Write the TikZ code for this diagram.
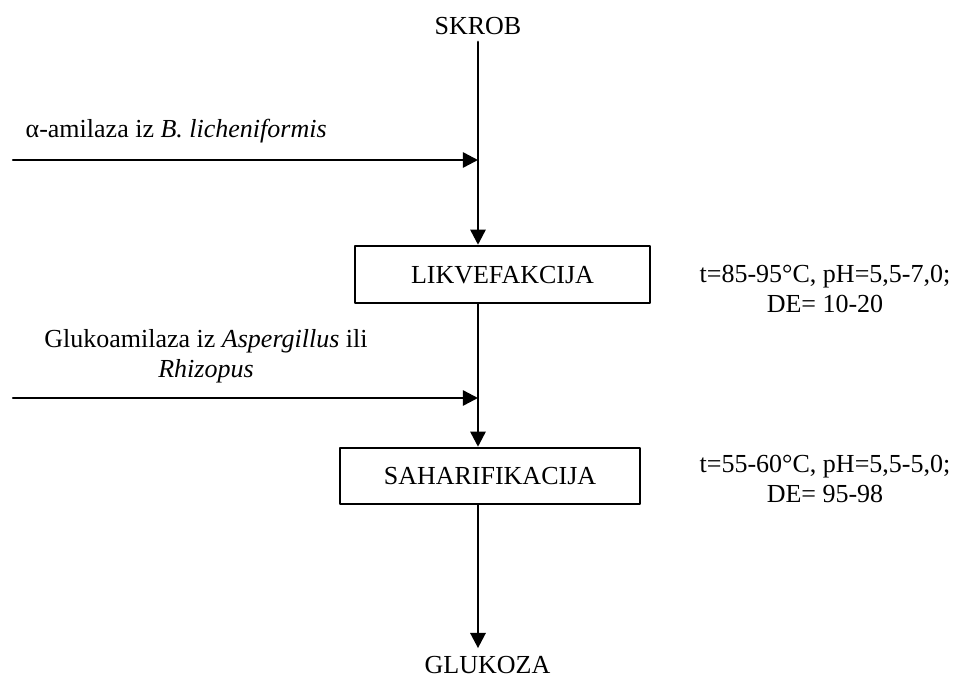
\documentclass[tikz,border=0pt]{standalone}
\usepackage{fontspec}
\setmainfont{Liberation Serif}
\usetikzlibrary{arrows.meta}

\begin{document}
\begin{tikzpicture}[line cap=round, line join=round, x=0.4615pt, y=-0.4615pt]
  \def\u{0.4615pt} % jedan piksel slike
  \tikzset{
    lbl/.style={font=\fontsize{12pt}{13.8pt}\selectfont},
    box/.style={lbl, draw=black, line width=1.15pt, text height=7.9pt, text depth=0pt},
    flow/.style={line width=1.15pt, -{Triangle[length=7pt, width=7pt]}, draw=black}
  }
  \useasboundingbox (0,0) rectangle (957,677);

  \node[lbl, anchor=base] (skrob) at (478,34) {SKROB};
  \node[box, minimum width=295*\u, minimum height=57*\u] (lik) at (502.5,274.5) {LIKVEFAKCIJA};
  \node[box, minimum width=300*\u, minimum height=56*\u] (sah) at (490,476) {SAHARIFIKACIJA};
  \node[lbl, anchor=base] (glu) at (487.5,673) {GLUKOZA};

  % kod vise redaka "base" je zadnji redak
  \node[lbl, anchor=base west] (alfa) at (18,137) {α-amilaza iz \textit{B. licheniformis}};
  \node[lbl, anchor=base, align=center] (gluko) at (206,377) {Glukoamilaza iz \textit{Aspergillus} ili\\ \textit{Rhizopus}};
  \node[lbl, anchor=base, align=center] (uvj1) at (825,312) {t=85-95°C, pH=5,5-7,0;\\ DE= 10-20};
  \node[lbl, anchor=base, align=center] (uvj2) at (825,502) {t=55-60°C, pH=5,5-5,0;\\ DE= 95-98};

  \coordinate (ul1) at (13,160);
  \coordinate (ul2) at (13,398);

  \draw[flow] (skrob.south) -- (skrob.south |- lik.north);
  \draw[flow] (ul1) -- (ul1 -| skrob);
  \draw[flow] (lik.south -| skrob) -- (sah.north -| skrob);
  \draw[flow] (ul2) -- (ul2 -| skrob);
  \draw[flow] (sah.south -| skrob) -- (glu.north -| skrob);

\end{tikzpicture}
\end{document}
